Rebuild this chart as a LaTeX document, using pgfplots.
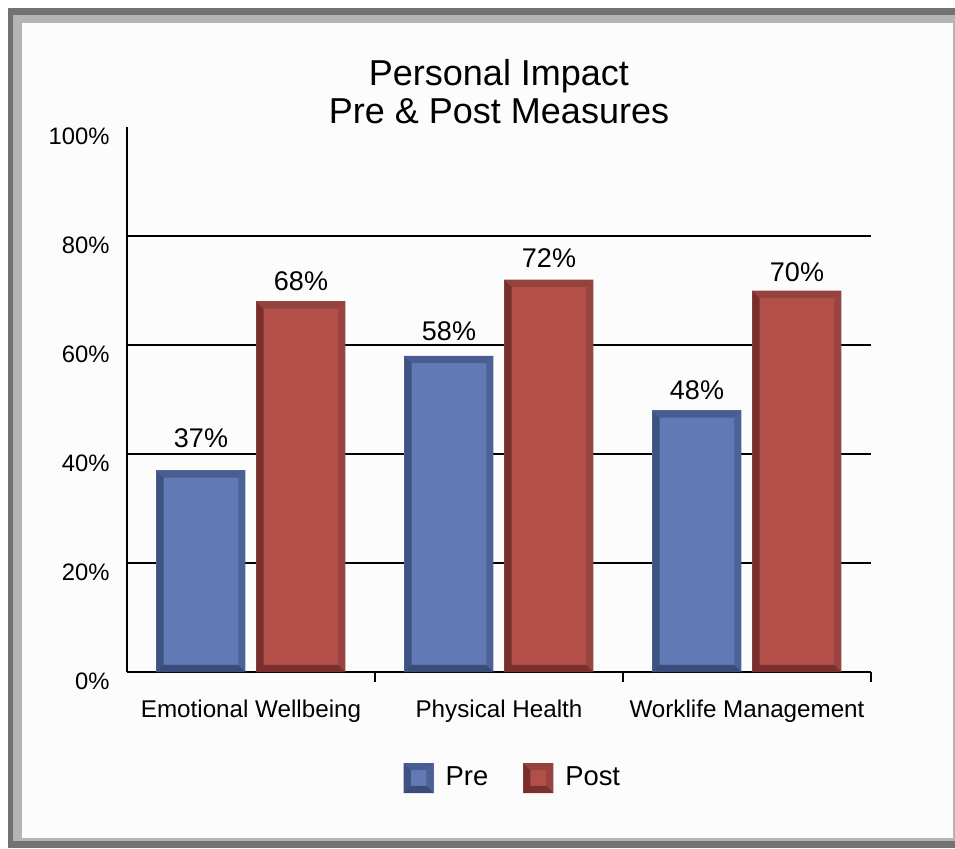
\documentclass[border=0pt]{standalone}
\usepackage{fontspec}
\setmainfont{Liberation Sans}
\usepackage{pgfplots}
\pgfplotsset{compat=1.18}
\definecolor{prefill}{HTML}{6179B5}
\definecolor{preL}{HTML}{3F5382}
\definecolor{preT}{HTML}{4A5D92}
\definecolor{preR}{HTML}{4D6197}
\definecolor{preB}{HTML}{3A4C7A}
\definecolor{postfill}{HTML}{B34F49}
\definecolor{postL}{HTML}{772F2B}
\definecolor{postT}{HTML}{94423D}
\definecolor{postR}{HTML}{984440}
\definecolor{postB}{HTML}{7A302C}
\tikzset{bevel/.style n args={4}{path picture={
  \fill[#1,path picture={}] (path picture bounding box.south west) -- (path picture bounding box.north west)
     -- ([shift={(3.6pt,-3.6pt)}]path picture bounding box.north west)
     -- ([shift={(3.6pt,3.6pt)}]path picture bounding box.south west) -- cycle;
  \fill[#2,path picture={}] (path picture bounding box.north west) -- (path picture bounding box.north east)
     -- ([shift={(-3.6pt,-3.6pt)}]path picture bounding box.north east)
     -- ([shift={(3.6pt,-3.6pt)}]path picture bounding box.north west) -- cycle;
  \fill[#3,path picture={}] (path picture bounding box.north east) -- (path picture bounding box.south east)
     -- ([shift={(-3.6pt,3.6pt)}]path picture bounding box.south east)
     -- ([shift={(-3.6pt,-3.6pt)}]path picture bounding box.north east) -- cycle;
  \fill[#4,path picture={}] (path picture bounding box.south west) -- (path picture bounding box.south east)
     -- ([shift={(-3.6pt,3.6pt)}]path picture bounding box.south east)
     -- ([shift={(3.6pt,3.6pt)}]path picture bounding box.south west) -- cycle;
}}}
\pgfplotsset{
  prestyle/.style={fill=prefill, draw=none, bevel={preL}{preT}{preR}{preB}, bar shift=-25pt},
  poststyle/.style={fill=postfill, draw=none, bevel={postL}{postT}{postR}{postB}, bar shift=25pt},
}
\begin{document}
\begin{tikzpicture}
% frame
\path (0,0) rectangle (477.5pt,424pt);
\fill[color={rgb,255:red,114;green,114;blue,114}] (4pt,0pt) rectangle (477.5pt,420pt);
\fill[color={rgb,255:red,181;green,181;blue,181}] (6.5pt,3.5pt) rectangle (477.5pt,416.5pt);
\fill[color={rgb,255:red,252;green,252;blue,252}] (11pt,5pt) rectangle (476.5pt,412.5pt);
% title
\node[anchor=base,font=\fontsize{18}{20}\selectfont] at (249.5pt,381pt) {Personal Impact};
\node[anchor=base,font=\fontsize{18}{20}\selectfont] at (249.5pt,362pt) {Pre \& Post Measures};
\begin{axis}[
  at={(63.5pt,88pt)}, anchor=south west,
  scale only axis, width=372pt, height=272.5pt,
  xmin=-0.5, xmax=2.5, ymin=0, ymax=100,
  axis x line*=bottom, axis y line*=left,
  axis line style={black,line width=0.8pt},
  xtick={0,1,2},
  xticklabels={Emotional Wellbeing,Physical Health,Worklife Management},
  minor xtick={0.5,1.5,2.5},
  major tick length=0pt, minor tick length=5pt,
  tick align=inside,
  minor tick style={black,line width=0.8pt},
  xticklabel style={font=\fontsize{12.1}{14}\selectfont, anchor=base, inner sep=0pt, yshift=-22.5pt},
  ytick={0,20,40,60,80},
  extra y ticks={100}, extra y tick style={grid=none},
  ymajorgrids, grid style={black,line width=0.8pt},
  yticklabel={\pgfmathprintnumber{\tick}\%},
  yticklabel style={font=\fontsize{11.9}{14}\selectfont, anchor=base east, inner sep=0pt, yshift=-8.5pt, xshift=-8.5pt},
  /pgf/number format/assume math mode=true,
  ybar, bar width=44.5pt,
  visualization depends on={value \thisrow{off}\as\labeloff},
  nodes near coords={\pgfmathprintnumber{\pgfplotspointmeta}\%},
  every node near coord/.append style={font=\fontsize{13.5}{15}\selectfont, anchor=base, inner sep=0pt, yshift=\labeloff pt, black, path picture={}},
  legend columns=2,
  legend style={at={(0.52,-0.1945)}, anchor=center, draw=none, fill=none,
    font=\fontsize{13.7}{15}\selectfont,
    /tikz/every odd column/.append style={column sep=4pt},
    /tikz/every even column/.append style={column sep=15.5pt}},
  legend image code/.code={\path[#1] (0pt,-7.5pt) rectangle (15pt,7.5pt);},
]
% Pre (one plot per bar so each bar gets its own bevel)
\addplot[prestyle] table[x=x,y=y,row sep=\\] {x y off\\ 0 37 11.2\\};
\addplot[prestyle,forget plot] table[x=x,y=y,row sep=\\] {x y off\\ 1 58 7.6\\};
\addplot[prestyle,forget plot] table[x=x,y=y,row sep=\\] {x y off\\ 2 48 5.7\\};
% Post
\addplot[poststyle] table[x=x,y=y,row sep=\\] {x y off\\ 0 68 5.35\\};
\addplot[poststyle,forget plot] table[x=x,y=y,row sep=\\] {x y off\\ 1 72 6.3\\};
\addplot[poststyle,forget plot] table[x=x,y=y,row sep=\\] {x y off\\ 2 70 4.4\\};
\legend{Pre,Post}
\end{axis}
\end{tikzpicture}
\end{document}
